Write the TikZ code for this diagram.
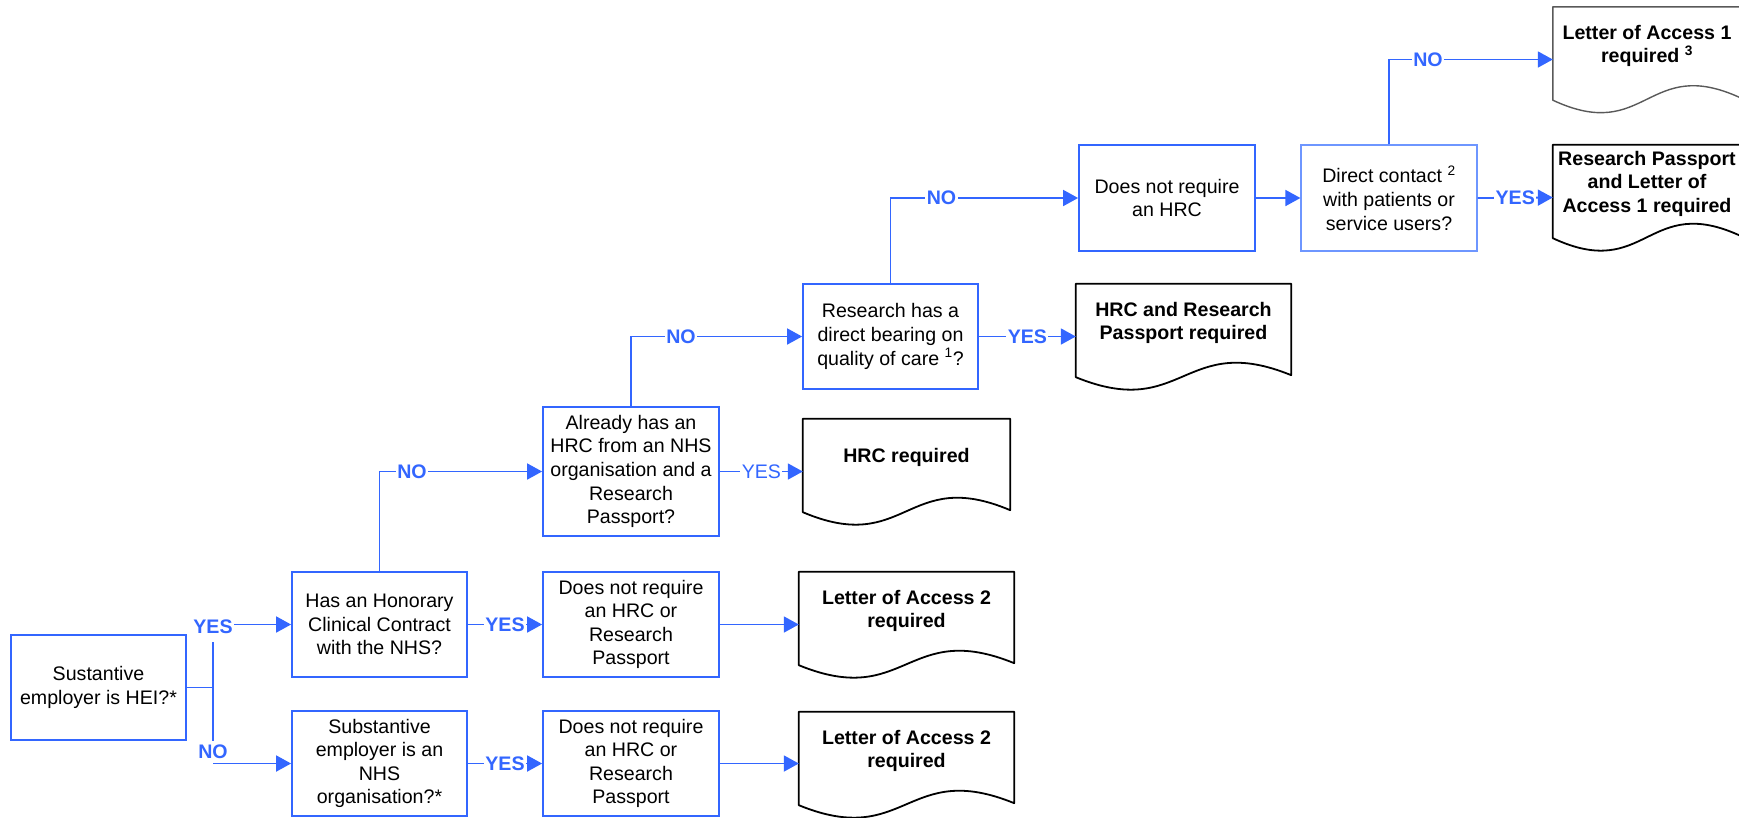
\documentclass[tikz,border=0pt]{standalone}
\usepackage{fontspec}
\setmainfont{Liberation Sans}
\usetikzlibrary{arrows.meta,calc}
\definecolor{flowblue}{RGB}{51,102,255}
\definecolor{paleblue}{RGB}{110,150,255}
\tikzset{
  every node/.style={font=\fontsize{19.6pt}{23.6pt}\selectfont},
  qbox/.style={draw=flowblue, line width=1.8pt, align=center, inner sep=0pt,
               minimum width=175pt, minimum height=105pt},
  qboxpale/.style={qbox, draw=paleblue, line width=1.2pt},
  docbox/.style={draw=none, inner sep=0pt, minimum height=105pt},
  doctext/.style={align=center, inner sep=0pt, font=\bfseries\fontsize{19.6pt}{23.6pt}\selectfont},
  docline/.style={draw=black, line width=1.8pt, line join=round},
  conn/.style={draw=flowblue, line width=1.8pt},
  arr/.style={conn, -{Triangle[length=15pt,width=16pt]}},
  lbl/.style={fill=white, text=flowblue, inner xsep=1.5pt, inner ysep=1pt,
              font=\bfseries\fontsize{19.6pt}{23pt}\selectfont},
  lblplain/.style={lbl, font=\fontsize{19.6pt}{23pt}\selectfont},
}
\newcommand\docoutline[2][]{%
  \draw[docline,#1] (#2.north west) -- (#2.north east)
    -- ($(#2.north east)!0.867!(#2.south east)$)
    .. controls ($(#2.south)+(0,-58)$) and ($(#2.south)+(0,32)$)
    .. ($(#2.north west)!0.886!(#2.south west)$) -- cycle;}
\begin{document}
\begin{tikzpicture}[x=1pt,y=-1pt]
\useasboundingbox (0,0) rectangle (1739,817);
\clip (0,0) rectangle (1739,817);

% question / statement boxes
\node[qbox] (hei) at (98.5,687.5) {Sustantive\\employer is HEI?*};
\node[qbox] (hon) at (379.5,624.5) {Has an Honorary\\Clinical Contract\\with the NHS?};
\node[qbox] (sub) at (379.5,763.5) {Substantive\\employer is an\\NHS\\organisation?*};
\node[qbox, minimum width=176pt] (dnr1) at (631,624.5) {Does not require\\an HRC or\\Research\\Passport};
\node[qbox, minimum width=176pt] (dnr2) at (631,763.5) {Does not require\\an HRC or\\Research\\Passport};
\node[qbox, minimum width=176pt, minimum height=129pt] (already) at (631,471.5) {Already has an\\HRC from an NHS\\organisation and a\\Research\\Passport?};
\node[qbox] (research) at (890.5,336.5) {Research has a\\direct bearing on\\quality of care \textsuperscript{1}?};
\node[qbox, minimum width=176pt, minimum height=106pt] (dnrhrc) at (1167,198) {Does not require\\an HRC};
\node[qboxpale, minimum width=176pt, minimum height=106pt] (direct) at (1389,198) {Direct contact \textsuperscript{2}\\with patients or\\service users?};

% document shapes
\node[docbox, minimum width=207pt] (hrcreq) at (906.5,471.5) {};
\node[docbox, minimum width=215pt] (loa2a) at (906.5,624.5) {};
\node[docbox, minimum width=215pt] (loa2b) at (906.5,764.5) {};
\node[docbox, minimum width=215pt] (hrcrp) at (1183.5,336.5) {};
\node[docbox, minimum width=188pt] (rploa1) at (1647,197.5) {};
\node[docbox, minimum width=188pt] (loa1) at (1647,59.5) {};
\docoutline{hrcreq}
\docoutline{loa2a}
\docoutline{loa2b}
\docoutline{hrcrp}
\docoutline{rploa1}
\docoutline[draw=black!65, line width=1.4pt]{loa1}
\node[doctext] (hrcreqt) at ($(hrcreq.north)+(0,39)$) {HRC required};
\node[doctext] (loa2at) at ($(loa2a.north)+(0,39)$) {Letter of Access 2\\required};
\node[doctext] (loa2bt) at ($(loa2b.north)+(0,39)$) {Letter of Access 2\\required};
\node[doctext] (hrcrpt) at ($(hrcrp.north)+(0,39)$) {HRC and Research\\Passport required};
\node[doctext] (rploa1t) at ($(rploa1.north)+(0,39)$) {Research Passport\\and Letter of\\Access 1 required};
\node[doctext] (loa1t) at ($(loa1.north)+(0,39)$) {Letter of Access 1\\required \textsuperscript{3}};

% first branch
\node[lbl] (yes1) at (213,627) {YES};
\node[lbl] (no1) at (213,752) {NO};
\draw[conn, shorten <=7pt, shorten >=3pt] (yes1.south) -- (no1.north);
\draw[conn] (hei.east) -- (hei.east -| yes1.south);
\draw[arr] (yes1.east |- hon.west) -- (hon.west);
\draw[arr] (no1.south |- sub.west) -- (sub.west);

% YES connectors
\draw[arr] (hon.east) -- node[lbl] (yes2) {YES} (dnr1.west);
\draw[arr] (sub.east) -- node[lbl] (yes3) {YES} (dnr2.west);
\draw[arr] (already.east) -- node[lblplain] (yes4) {YES} (hrcreq.west);
\draw[arr] (research.east) -- node[lbl] (yes5) {YES} (hrcrp.west);
\draw[arr] (direct.east) -- node[lbl] (yes6) {YES} (rploa1.west);

% plain connectors
\draw[arr] (dnr1.east) -- (loa2a.west);
\draw[arr] (dnr2.east) -- (dnr2.east -| loa2b.west);
\draw[arr] (dnrhrc.east) -- (direct.west);

% NO connectors
\draw[arr] (hon.north) |- node[lbl, pos=0.60] (no2) {NO} (already.west);
\draw[arr] (already.north) |- node[lbl, pos=0.646] (no3) {NO} (research.west);
\draw[arr] (research.north) |- node[lbl, pos=0.636] (no4) {NO} (dnrhrc.west);
\draw[arr] (direct.north) |- node[lbl, pos=0.619] (no5) {NO} (loa1.west);
\end{tikzpicture}
\end{document}
